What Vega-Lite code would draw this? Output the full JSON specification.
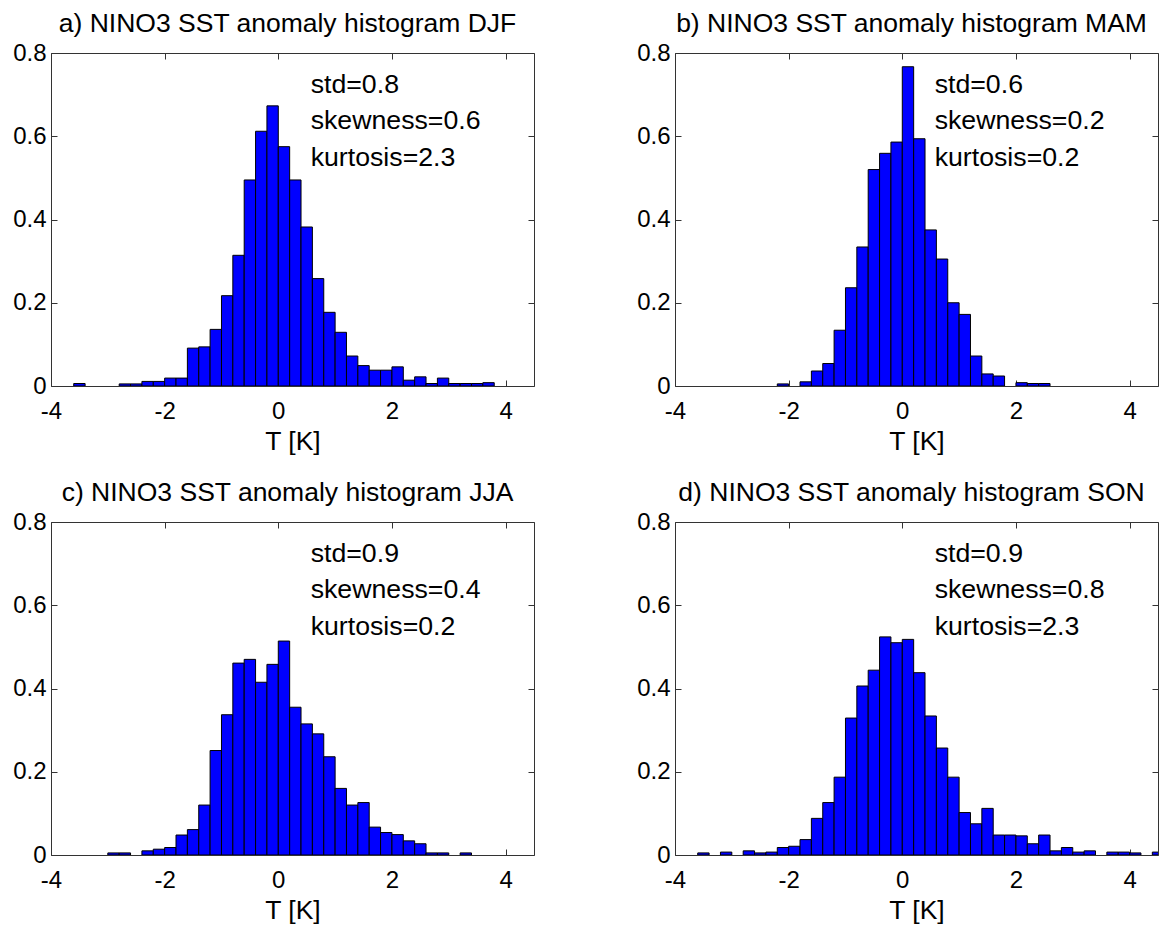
{
  "$schema": "https://vega.github.io/schema/vega-lite/v6.json",
  "background": "white",
  "padding": {"left": 12, "top": 10, "right": 0, "bottom": 0},
  "autosize": {"type": "pad"},
  "bounds": "flush",
  "columns": 2,
  "spacing": {"row": 136, "column": 141},
  "datasets": {
    "bins": [
      {"panel": "DJF", "lo": -3.6, "hi": -3.4, "density": 0.006},
      {"panel": "DJF", "lo": -2.8, "hi": -2.6, "density": 0.005},
      {"panel": "DJF", "lo": -2.6, "hi": -2.4, "density": 0.005},
      {"panel": "DJF", "lo": -2.4, "hi": -2.2, "density": 0.011},
      {"panel": "DJF", "lo": -2.2, "hi": -2.0, "density": 0.011},
      {"panel": "DJF", "lo": -2.0, "hi": -1.8, "density": 0.019},
      {"panel": "DJF", "lo": -1.8, "hi": -1.6, "density": 0.019},
      {"panel": "DJF", "lo": -1.6, "hi": -1.4, "density": 0.091},
      {"panel": "DJF", "lo": -1.4, "hi": -1.2, "density": 0.094},
      {"panel": "DJF", "lo": -1.2, "hi": -1.0, "density": 0.136},
      {"panel": "DJF", "lo": -1.0, "hi": -0.8, "density": 0.217},
      {"panel": "DJF", "lo": -0.8, "hi": -0.6, "density": 0.314},
      {"panel": "DJF", "lo": -0.6, "hi": -0.4, "density": 0.495},
      {"panel": "DJF", "lo": -0.4, "hi": -0.2, "density": 0.612},
      {"panel": "DJF", "lo": -0.2, "hi": 0.0, "density": 0.673},
      {"panel": "DJF", "lo": 0.0, "hi": 0.2, "density": 0.575},
      {"panel": "DJF", "lo": 0.2, "hi": 0.4, "density": 0.495},
      {"panel": "DJF", "lo": 0.4, "hi": 0.6, "density": 0.382},
      {"panel": "DJF", "lo": 0.6, "hi": 0.8, "density": 0.258},
      {"panel": "DJF", "lo": 0.8, "hi": 1.0, "density": 0.177},
      {"panel": "DJF", "lo": 1.0, "hi": 1.2, "density": 0.129},
      {"panel": "DJF", "lo": 1.2, "hi": 1.4, "density": 0.072},
      {"panel": "DJF", "lo": 1.4, "hi": 1.6, "density": 0.049},
      {"panel": "DJF", "lo": 1.6, "hi": 1.8, "density": 0.038},
      {"panel": "DJF", "lo": 1.8, "hi": 2.0, "density": 0.038},
      {"panel": "DJF", "lo": 2.0, "hi": 2.2, "density": 0.046},
      {"panel": "DJF", "lo": 2.2, "hi": 2.4, "density": 0.014},
      {"panel": "DJF", "lo": 2.4, "hi": 2.6, "density": 0.022},
      {"panel": "DJF", "lo": 2.6, "hi": 2.8, "density": 0.006},
      {"panel": "DJF", "lo": 2.8, "hi": 3.0, "density": 0.019},
      {"panel": "DJF", "lo": 3.0, "hi": 3.2, "density": 0.006},
      {"panel": "DJF", "lo": 3.2, "hi": 3.4, "density": 0.006},
      {"panel": "DJF", "lo": 3.4, "hi": 3.6, "density": 0.006},
      {"panel": "DJF", "lo": 3.6, "hi": 3.8, "density": 0.008},
      {"panel": "MAM", "lo": -2.2, "hi": -2.0, "density": 0.005},
      {"panel": "MAM", "lo": -1.8, "hi": -1.6, "density": 0.010},
      {"panel": "MAM", "lo": -1.6, "hi": -1.4, "density": 0.036},
      {"panel": "MAM", "lo": -1.4, "hi": -1.2, "density": 0.054},
      {"panel": "MAM", "lo": -1.2, "hi": -1.0, "density": 0.134},
      {"panel": "MAM", "lo": -1.0, "hi": -0.8, "density": 0.236},
      {"panel": "MAM", "lo": -0.8, "hi": -0.6, "density": 0.334},
      {"panel": "MAM", "lo": -0.6, "hi": -0.4, "density": 0.520},
      {"panel": "MAM", "lo": -0.4, "hi": -0.2, "density": 0.559},
      {"panel": "MAM", "lo": -0.2, "hi": 0.0, "density": 0.586},
      {"panel": "MAM", "lo": 0.0, "hi": 0.2, "density": 0.767},
      {"panel": "MAM", "lo": 0.2, "hi": 0.4, "density": 0.594},
      {"panel": "MAM", "lo": 0.4, "hi": 0.6, "density": 0.375},
      {"panel": "MAM", "lo": 0.6, "hi": 0.8, "density": 0.305},
      {"panel": "MAM", "lo": 0.8, "hi": 1.0, "density": 0.200},
      {"panel": "MAM", "lo": 1.0, "hi": 1.2, "density": 0.172},
      {"panel": "MAM", "lo": 1.2, "hi": 1.4, "density": 0.072},
      {"panel": "MAM", "lo": 1.4, "hi": 1.6, "density": 0.029},
      {"panel": "MAM", "lo": 1.6, "hi": 1.8, "density": 0.024},
      {"panel": "MAM", "lo": 2.0, "hi": 2.2, "density": 0.008},
      {"panel": "MAM", "lo": 2.2, "hi": 2.4, "density": 0.006},
      {"panel": "MAM", "lo": 2.4, "hi": 2.6, "density": 0.006},
      {"panel": "JJA", "lo": -3.0, "hi": -2.8, "density": 0.005},
      {"panel": "JJA", "lo": -2.8, "hi": -2.6, "density": 0.005},
      {"panel": "JJA", "lo": -2.4, "hi": -2.2, "density": 0.010},
      {"panel": "JJA", "lo": -2.2, "hi": -2.0, "density": 0.014},
      {"panel": "JJA", "lo": -2.0, "hi": -1.8, "density": 0.018},
      {"panel": "JJA", "lo": -1.8, "hi": -1.6, "density": 0.048},
      {"panel": "JJA", "lo": -1.6, "hi": -1.4, "density": 0.061},
      {"panel": "JJA", "lo": -1.4, "hi": -1.2, "density": 0.120},
      {"panel": "JJA", "lo": -1.2, "hi": -1.0, "density": 0.251},
      {"panel": "JJA", "lo": -1.0, "hi": -0.8, "density": 0.337},
      {"panel": "JJA", "lo": -0.8, "hi": -0.6, "density": 0.461},
      {"panel": "JJA", "lo": -0.6, "hi": -0.4, "density": 0.470},
      {"panel": "JJA", "lo": -0.4, "hi": -0.2, "density": 0.415},
      {"panel": "JJA", "lo": -0.2, "hi": 0.0, "density": 0.458},
      {"panel": "JJA", "lo": 0.0, "hi": 0.2, "density": 0.514},
      {"panel": "JJA", "lo": 0.2, "hi": 0.4, "density": 0.355},
      {"panel": "JJA", "lo": 0.4, "hi": 0.6, "density": 0.315},
      {"panel": "JJA", "lo": 0.6, "hi": 0.8, "density": 0.291},
      {"panel": "JJA", "lo": 0.8, "hi": 1.0, "density": 0.236},
      {"panel": "JJA", "lo": 1.0, "hi": 1.2, "density": 0.160},
      {"panel": "JJA", "lo": 1.2, "hi": 1.4, "density": 0.120},
      {"panel": "JJA", "lo": 1.4, "hi": 1.6, "density": 0.126},
      {"panel": "JJA", "lo": 1.6, "hi": 1.8, "density": 0.067},
      {"panel": "JJA", "lo": 1.8, "hi": 2.0, "density": 0.054},
      {"panel": "JJA", "lo": 2.0, "hi": 2.2, "density": 0.049},
      {"panel": "JJA", "lo": 2.2, "hi": 2.4, "density": 0.034},
      {"panel": "JJA", "lo": 2.4, "hi": 2.6, "density": 0.027},
      {"panel": "JJA", "lo": 2.6, "hi": 2.8, "density": 0.005},
      {"panel": "JJA", "lo": 2.8, "hi": 3.0, "density": 0.005},
      {"panel": "JJA", "lo": 3.2, "hi": 3.4, "density": 0.005},
      {"panel": "SON", "lo": -3.6, "hi": -3.4, "density": 0.005},
      {"panel": "SON", "lo": -3.2, "hi": -3.0, "density": 0.007},
      {"panel": "SON", "lo": -2.8, "hi": -2.6, "density": 0.010},
      {"panel": "SON", "lo": -2.6, "hi": -2.4, "density": 0.005},
      {"panel": "SON", "lo": -2.4, "hi": -2.2, "density": 0.007},
      {"panel": "SON", "lo": -2.2, "hi": -2.0, "density": 0.018},
      {"panel": "SON", "lo": -2.0, "hi": -1.8, "density": 0.021},
      {"panel": "SON", "lo": -1.8, "hi": -1.6, "density": 0.037},
      {"panel": "SON", "lo": -1.6, "hi": -1.4, "density": 0.088},
      {"panel": "SON", "lo": -1.4, "hi": -1.2, "density": 0.126},
      {"panel": "SON", "lo": -1.2, "hi": -1.0, "density": 0.187},
      {"panel": "SON", "lo": -1.0, "hi": -0.8, "density": 0.329},
      {"panel": "SON", "lo": -0.8, "hi": -0.6, "density": 0.406},
      {"panel": "SON", "lo": -0.6, "hi": -0.4, "density": 0.444},
      {"panel": "SON", "lo": -0.4, "hi": -0.2, "density": 0.524},
      {"panel": "SON", "lo": -0.2, "hi": 0.0, "density": 0.510},
      {"panel": "SON", "lo": 0.0, "hi": 0.2, "density": 0.518},
      {"panel": "SON", "lo": 0.2, "hi": 0.4, "density": 0.438},
      {"panel": "SON", "lo": 0.4, "hi": 0.6, "density": 0.334},
      {"panel": "SON", "lo": 0.6, "hi": 0.8, "density": 0.257},
      {"panel": "SON", "lo": 0.8, "hi": 1.0, "density": 0.187},
      {"panel": "SON", "lo": 1.0, "hi": 1.2, "density": 0.102},
      {"panel": "SON", "lo": 1.2, "hi": 1.4, "density": 0.075},
      {"panel": "SON", "lo": 1.4, "hi": 1.6, "density": 0.112},
      {"panel": "SON", "lo": 1.6, "hi": 1.8, "density": 0.048},
      {"panel": "SON", "lo": 1.8, "hi": 2.0, "density": 0.048},
      {"panel": "SON", "lo": 2.0, "hi": 2.2, "density": 0.046},
      {"panel": "SON", "lo": 2.2, "hi": 2.4, "density": 0.027},
      {"panel": "SON", "lo": 2.4, "hi": 2.6, "density": 0.048},
      {"panel": "SON", "lo": 2.6, "hi": 2.8, "density": 0.010},
      {"panel": "SON", "lo": 2.8, "hi": 3.0, "density": 0.018},
      {"panel": "SON", "lo": 3.0, "hi": 3.2, "density": 0.007},
      {"panel": "SON", "lo": 3.2, "hi": 3.4, "density": 0.010},
      {"panel": "SON", "lo": 3.6, "hi": 3.8, "density": 0.007},
      {"panel": "SON", "lo": 3.8, "hi": 4.0, "density": 0.007},
      {"panel": "SON", "lo": 4.0, "hi": 4.2, "density": 0.005},
      {"panel": "SON", "lo": 4.4, "hi": 4.6, "density": 0.007}
    ],
    "stats": [
      {"panel": "DJF", "lines": ["std=0.8", "skewness=0.6", "kurtosis=2.3"]},
      {"panel": "MAM", "lines": ["std=0.6", "skewness=0.2", "kurtosis=0.2"]},
      {"panel": "JJA", "lines": ["std=0.9", "skewness=0.4", "kurtosis=0.2"]},
      {"panel": "SON", "lines": ["std=0.9", "skewness=0.8", "kurtosis=2.3"]}
    ]
  },
  "concat": [
    {
      "title": "a) NINO3 SST anomaly histogram DJF",
      "width": 483, "height": 333,
      "resolve": {"axis": {"x": "independent", "y": "independent"}},
      "layer": [
        {
          "data": {"name": "bins"},
          "transform": [{"filter": "datum.panel === 'DJF'"}],
          "mark": {"type": "rect", "fill": "#0000ff", "stroke": "#000000", "strokeWidth": 1, "clip": true},
          "encoding": {
            "x": {"field": "lo", "type": "quantitative", "scale": {"domain": [-4, 4.5], "nice": false, "zero": false},
                  "axis": {"orient": "bottom", "values": [-4, -2, 0, 2, 4], "title": "T [K]", "format": "~g", "labelExpr": "replace(datum.label, '\u2212', '-')"}},
            "x2": {"field": "hi"},
            "y": {"field": "density", "type": "quantitative", "scale": {"domain": [0, 0.8], "nice": false, "zero": false},
                  "axis": {"orient": "left", "values": [0, 0.2, 0.4, 0.6, 0.8], "title": null, "format": "~g"}},
            "y2": {"datum": 0}
          }
        },
        {
          "data": {"name": "stats"},
          "transform": [{"filter": "datum.panel === 'DJF'"}],
          "mark": {"type": "text", "align": "left", "baseline": "alphabetic", "fontSize": 26.7, "lineHeight": 36.7, "color": "#000000"},
          "encoding": {
            "x": {"datum": 0.57, "type": "quantitative", "axis": {"orient": "top", "labels": false, "title": null, "values": [-4, -2, 0, 2, 4]}},
            "y": {"datum": 0.705, "type": "quantitative", "axis": {"orient": "right", "labels": false, "title": null, "values": [0, 0.2, 0.4, 0.6, 0.8]}},
            "text": {"field": "lines"}
          }
        }
      ]
    },
    {
      "title": "b) NINO3 SST anomaly histogram MAM",
      "width": 483, "height": 333,
      "resolve": {"axis": {"x": "independent", "y": "independent"}},
      "layer": [
        {
          "data": {"name": "bins"},
          "transform": [{"filter": "datum.panel === 'MAM'"}],
          "mark": {"type": "rect", "fill": "#0000ff", "stroke": "#000000", "strokeWidth": 1, "clip": true},
          "encoding": {
            "x": {"field": "lo", "type": "quantitative", "scale": {"domain": [-4, 4.5], "nice": false, "zero": false},
                  "axis": {"orient": "bottom", "values": [-4, -2, 0, 2, 4], "title": "T [K]", "format": "~g", "labelExpr": "replace(datum.label, '\u2212', '-')"}},
            "x2": {"field": "hi"},
            "y": {"field": "density", "type": "quantitative", "scale": {"domain": [0, 0.8], "nice": false, "zero": false},
                  "axis": {"orient": "left", "values": [0, 0.2, 0.4, 0.6, 0.8], "title": null, "format": "~g"}},
            "y2": {"datum": 0}
          }
        },
        {
          "data": {"name": "stats"},
          "transform": [{"filter": "datum.panel === 'MAM'"}],
          "mark": {"type": "text", "align": "left", "baseline": "alphabetic", "fontSize": 26.7, "lineHeight": 36.7, "color": "#000000"},
          "encoding": {
            "x": {"datum": 0.57, "type": "quantitative", "axis": {"orient": "top", "labels": false, "title": null, "values": [-4, -2, 0, 2, 4]}},
            "y": {"datum": 0.705, "type": "quantitative", "axis": {"orient": "right", "labels": false, "title": null, "values": [0, 0.2, 0.4, 0.6, 0.8]}},
            "text": {"field": "lines"}
          }
        }
      ]
    },
    {
      "title": "c) NINO3 SST anomaly histogram JJA",
      "width": 483, "height": 333,
      "resolve": {"axis": {"x": "independent", "y": "independent"}},
      "layer": [
        {
          "data": {"name": "bins"},
          "transform": [{"filter": "datum.panel === 'JJA'"}],
          "mark": {"type": "rect", "fill": "#0000ff", "stroke": "#000000", "strokeWidth": 1, "clip": true},
          "encoding": {
            "x": {"field": "lo", "type": "quantitative", "scale": {"domain": [-4, 4.5], "nice": false, "zero": false},
                  "axis": {"orient": "bottom", "values": [-4, -2, 0, 2, 4], "title": "T [K]", "format": "~g", "labelExpr": "replace(datum.label, '\u2212', '-')"}},
            "x2": {"field": "hi"},
            "y": {"field": "density", "type": "quantitative", "scale": {"domain": [0, 0.8], "nice": false, "zero": false},
                  "axis": {"orient": "left", "values": [0, 0.2, 0.4, 0.6, 0.8], "title": null, "format": "~g"}},
            "y2": {"datum": 0}
          }
        },
        {
          "data": {"name": "stats"},
          "transform": [{"filter": "datum.panel === 'JJA'"}],
          "mark": {"type": "text", "align": "left", "baseline": "alphabetic", "fontSize": 26.7, "lineHeight": 36.7, "color": "#000000"},
          "encoding": {
            "x": {"datum": 0.57, "type": "quantitative", "axis": {"orient": "top", "labels": false, "title": null, "values": [-4, -2, 0, 2, 4]}},
            "y": {"datum": 0.705, "type": "quantitative", "axis": {"orient": "right", "labels": false, "title": null, "values": [0, 0.2, 0.4, 0.6, 0.8]}},
            "text": {"field": "lines"}
          }
        }
      ]
    },
    {
      "title": "d) NINO3 SST anomaly histogram SON",
      "width": 483, "height": 333,
      "resolve": {"axis": {"x": "independent", "y": "independent"}},
      "layer": [
        {
          "data": {"name": "bins"},
          "transform": [{"filter": "datum.panel === 'SON'"}],
          "mark": {"type": "rect", "fill": "#0000ff", "stroke": "#000000", "strokeWidth": 1, "clip": true},
          "encoding": {
            "x": {"field": "lo", "type": "quantitative", "scale": {"domain": [-4, 4.5], "nice": false, "zero": false},
                  "axis": {"orient": "bottom", "values": [-4, -2, 0, 2, 4], "title": "T [K]", "format": "~g", "labelExpr": "replace(datum.label, '\u2212', '-')"}},
            "x2": {"field": "hi"},
            "y": {"field": "density", "type": "quantitative", "scale": {"domain": [0, 0.8], "nice": false, "zero": false},
                  "axis": {"orient": "left", "values": [0, 0.2, 0.4, 0.6, 0.8], "title": null, "format": "~g"}},
            "y2": {"datum": 0}
          }
        },
        {
          "data": {"name": "stats"},
          "transform": [{"filter": "datum.panel === 'SON'"}],
          "mark": {"type": "text", "align": "left", "baseline": "alphabetic", "fontSize": 26.7, "lineHeight": 36.7, "color": "#000000"},
          "encoding": {
            "x": {"datum": 0.57, "type": "quantitative", "axis": {"orient": "top", "labels": false, "title": null, "values": [-4, -2, 0, 2, 4]}},
            "y": {"datum": 0.705, "type": "quantitative", "axis": {"orient": "right", "labels": false, "title": null, "values": [0, 0.2, 0.4, 0.6, 0.8]}},
            "text": {"field": "lines"}
          }
        }
      ]
    }
  ],
  "config": {
    "font": "Liberation Sans",
    "view": {"stroke": null},
    "axis": {
      "domainColor": "#333333", "domainWidth": 1,
      "tickColor": "#333333", "tickWidth": 1, "tickSize": -6,
      "labelFont": "Liberation Sans", "labelFontSize": 24, "labelColor": "#000000",
      "labelFlush": false, "labelOverlap": false, "grid": false,
      "titleFont": "Liberation Sans", "titleFontSize": 26.5, "titleFontWeight": "normal", "titleColor": "#000000"
    },
    "axisBottom": {"labelPadding": 19, "titleY": 63, "titleBaseline": "alphabetic"},
    "axisLeft": {"labelPadding": 11},
    "title": {"font": "Liberation Sans", "fontSize": 26.5, "fontWeight": "normal", "color": "#000000", "offset": 4, "baseline": "alphabetic", "anchor": "middle", "frame": "group", "dx": -5}
  }
}
